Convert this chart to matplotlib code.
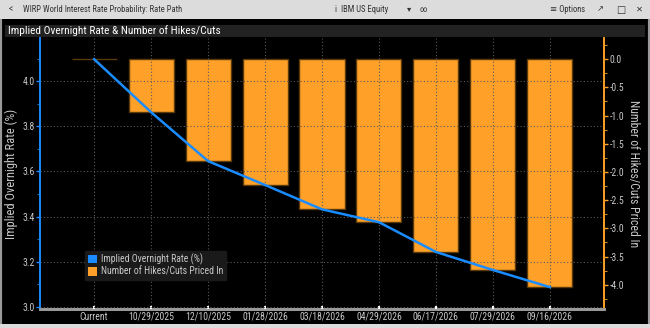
import matplotlib.pyplot as plt
from matplotlib import font_manager
from matplotlib.patches import Rectangle, Patch
from matplotlib.ticker import MultipleLocator, FormatStrFormatter

dates = ['Current', '10/29/2025', '12/10/2025', '01/28/2026', '03/18/2026',
         '04/29/2026', '06/17/2026', '07/29/2026', '09/16/2026']
implied_rate = [4.098, 3.863, 3.646, 3.54, 3.432, 3.375, 3.243, 3.163, 3.087]
hikes_cuts = [0.0, -0.94, -1.81, -2.23, -2.66, -2.89, -3.42, -3.74, -4.04]

BLUE = '#1a8cff'
ORANGE = '#ffa028'
TXT = '#c8c8c8'

# pick a narrow face if one is around
installed = {f.name for f in font_manager.fontManager.ttflist}
narrow = [n for n in ['Liberation Sans Narrow', 'DejaVu Sans Condensed',
                      'Roboto Condensed', 'Open Sans Condensed'] if n in installed]
FONT = narrow[:1] + ['DejaVu Sans']
plt.rcParams['font.family'] = FONT


def plot_chart():
    fig = plt.figure(figsize=(6.5, 3.28), dpi=100)
    fig.patch.set_facecolor('black')

    # window chrome
    fig.patches.append(Rectangle((0, 0), 1, 1, transform=fig.transFigure,
                                 facecolor='none', edgecolor='#9a9a9a', lw=3))
    fig.patches.append(Rectangle((0, 1 - 19 / 328), 1, 19 / 328, transform=fig.transFigure,
                                 facecolor='#dcdcdc', edgecolor='none'))
    fig.patches.append(Rectangle((0, 0), 1, 4 / 328, transform=fig.transFigure,
                                 facecolor='#dcdcdc', edgecolor='none'))
    fig.patches.append(Rectangle((5 / 650, 1 - 37 / 328), 640 / 650, 12 / 328,
                                 transform=fig.transFigure,
                                 facecolor='#222222', edgecolor='none'))
    ty = 1 - 9.5 / 328
    fig.text(9 / 650, ty, '<', color='#444444', fontsize=7, va='center')
    fig.text(23 / 650, ty, 'WIRP World Interest Rate Probability: Rate Path',
             color='#333333', fontsize=6.2, va='center')
    fig.text(335 / 650, ty, 'i  IBM US Equity', color='#333333', fontsize=6.2, va='center')
    fig.text(409 / 650, ty, '\u25be', color='#333333', fontsize=6, va='center', ha='center')
    fig.text(423 / 650, ty, '\u221e', color='#333333', fontsize=6, va='center', ha='center')
    fig.text(550 / 650, ty, '\u2261 Options', color='#333333', fontsize=6.2, va='center')
    fig.text(600 / 650, ty, '\u2197', color='#333333', fontsize=6, va='center', ha='center')
    fig.text(621 / 650, ty, '\u25a1', color='#333333', fontsize=7, va='center', ha='center')
    fig.text(639 / 650, ty, '\u2715', color='#333333', fontsize=6, va='center', ha='center')
    fig.text(8 / 650, 1 - 31 / 328, 'Implied Overnight Rate & Number of Hikes/Cuts',
             color='white', fontsize=8.2, va='center')

    ax = fig.add_axes([40 / 650, 19 / 328, 564 / 650, 271 / 328])
    ax2 = ax.twinx()
    ax.set_facecolor('black')
    ax.set_zorder(ax2.get_zorder() + 1)
    ax.patch.set_visible(False)

    x = list(range(len(dates)))

    # bars on the right axis
    ax2.bar(x, hikes_cuts, width=0.79, color=ORANGE, edgecolor='#5a3a0a', lw=1)
    ax2.set_ylim(-4.43, 0.376)
    ax2.yaxis.set_major_locator(MultipleLocator(0.5))
    ax2.yaxis.set_minor_locator(MultipleLocator(0.25))
    ax2.yaxis.set_major_formatter(FormatStrFormatter('%.1f'))
    ax2.tick_params(axis='y', colors=ORANGE, labelcolor=TXT, labelsize=7,
                    length=3, width=1, pad=1)
    ax2.tick_params(axis='y', which='minor', colors=ORANGE, length=2)
    ax2.set_ylabel('Number of Hikes/Cuts Priced In', color=TXT, fontsize=8.5,
                   rotation=270, labelpad=11)

    # line on the left axis
    ax.plot(x, implied_rate, color=BLUE, lw=1.8, zorder=5)
    ax.set_xlim(-0.95, 8.95)
    ax.set_ylim(2.99, 4.192)
    ax.yaxis.set_major_locator(MultipleLocator(0.2))
    ax.yaxis.set_minor_locator(MultipleLocator(0.1))
    ax.yaxis.set_major_formatter(FormatStrFormatter('%.1f'))
    ax.tick_params(axis='y', colors=BLUE, labelcolor=TXT, labelsize=7,
                   length=3, width=1, pad=1)
    ax.tick_params(axis='y', which='minor', colors=BLUE, length=2)
    ax.set_ylabel('Implied Overnight Rate (%)', color=TXT, fontsize=9, labelpad=3)

    ax.set_xticks(x)
    ax.set_xticklabels(dates)
    ax.tick_params(axis='x', colors='white', labelcolor=TXT, labelsize=7,
                   direction='in', length=2, width=1.5, pad=2)
    ax2.tick_params(axis='x', length=0)

    ax.grid(True, color='#5a5a5a', ls=(0, (1, 2)), lw=0.8)
    ax.set_axisbelow(False)

    for a in (ax, ax2):
        a.spines['top'].set_visible(False)
        a.spines['bottom'].set_color('#9a9a9a')
        a.spines['bottom'].set_linewidth(2)
        a.spines['left'].set_color(BLUE)
        a.spines['right'].set_color(ORANGE)
        a.spines['left'].set_linewidth(1.2)
        a.spines['right'].set_linewidth(1.2)

    handles = [Patch(facecolor=BLUE, edgecolor='none', label='Implied Overnight Rate (%)'),
               Patch(facecolor=ORANGE, edgecolor='none', label='Number of Hikes/Cuts Priced In')]
    leg = ax.legend(handles=handles, loc='lower left', bbox_to_anchor=(0.072, 0.09),
                    fontsize=7, frameon=True, facecolor='#1a1a1a', edgecolor='#1a1a1a',
                    framealpha=1, handlelength=0.9, handleheight=0.9, handletextpad=0.4,
                    borderpad=0.3, labelspacing=0.15, fancybox=False)
    for t in leg.get_texts():
        t.set_color(TXT)

    plt.savefig('out.png', dpi=100, facecolor=fig.get_facecolor())
    print('Wrote to out.png')


if __name__ == '__main__':
    plot_chart()
